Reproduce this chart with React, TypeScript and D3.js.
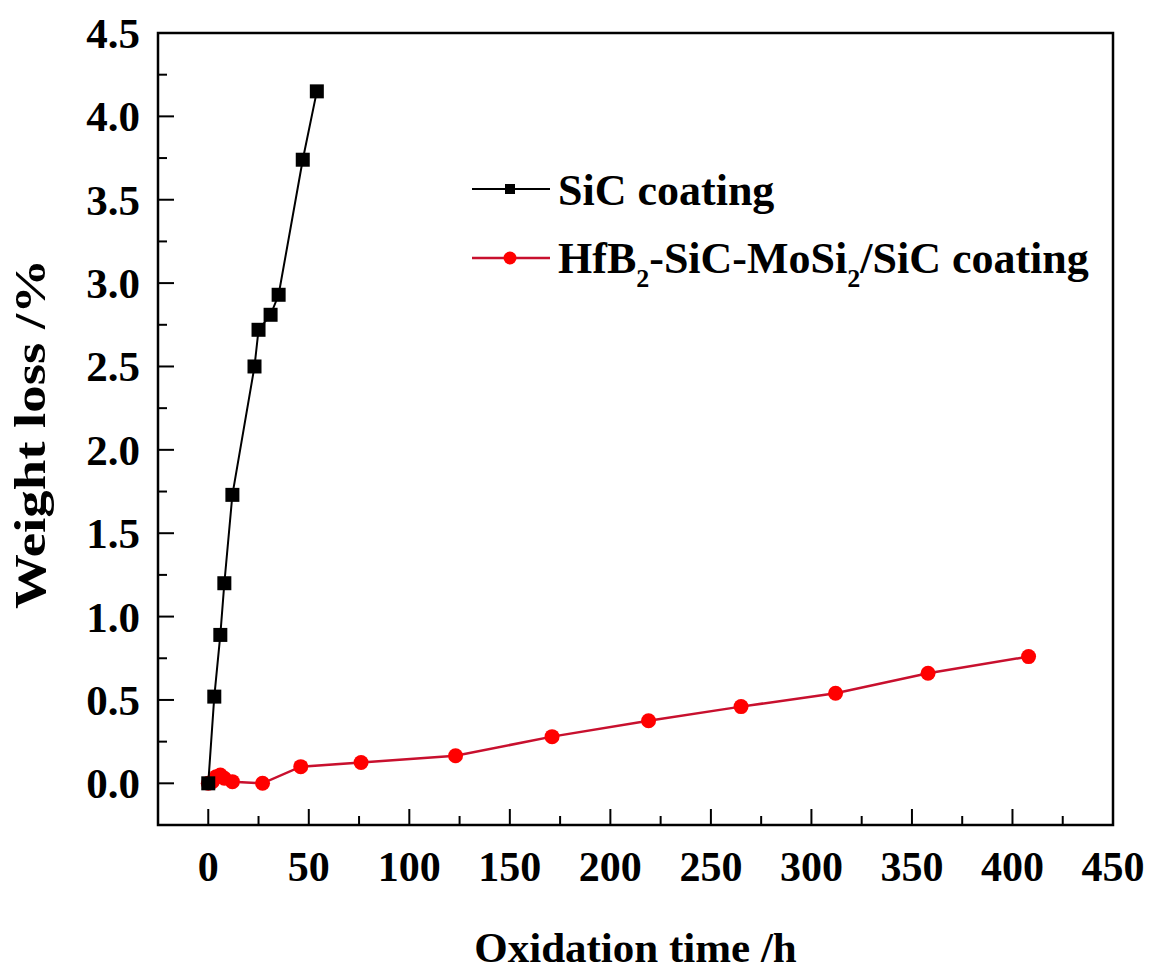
import { useEffect, useRef } from "react";
import * as d3 from "d3";

// SiC coating (black squares)
const sicTime = [0, 3, 6, 8, 12, 23, 25, 31, 35, 47, 54];
const sicLoss = [0, 0.52, 0.89, 1.2, 1.73, 2.5, 2.72, 2.81, 2.93, 3.74, 4.15];

// HfB2-SiC-MoSi2/SiC coating (red circles)
const hfTime = [0, 2, 4, 6, 8, 12, 27, 46, 76, 123, 171, 219, 265, 312, 358, 408];
const hfLoss = [0, 0.01, 0.04, 0.05, 0.03, 0.01, 0, 0.1, 0.125, 0.165, 0.28, 0.375, 0.46, 0.54, 0.66, 0.76];

const xTicks = [0, 50, 100, 150, 200, 250, 300, 350, 400, 450];
const yTicks = [0, 0.5, 1, 1.5, 2, 2.5, 3, 3.5, 4, 4.5];

const W = 1154;
const H = 974;
const FONT = "'Liberation Serif', 'Times New Roman', serif";

const App = () => {
  const svgRef = useRef<SVGSVGElement>(null);

  useEffect(() => {
    const svg = d3.select(svgRef.current);
    svg.selectAll("*").remove();

    const left = 158, right = 1113, top = 33, bottom = 825;

    const x = d3.scaleLinear().domain([-25, 450]).range([left, right]);
    const y = d3.scaleLinear().domain([-0.25, 4.5]).range([bottom, top]);

    const g = svg.append("g");

    // minor + major ticks (inward)
    const xMinor = xTicks.slice(0, -1).map((t) => t + 25);
    const yMinor = yTicks.slice(0, -1).map((t) => t + 0.25);

    xTicks.forEach((t) => {
      g.append("line").attr("x1", x(t)).attr("x2", x(t)).attr("y1", bottom).attr("y2", bottom - 16)
        .attr("stroke", "#000").attr("stroke-width", 2);
      g.append("text").attr("x", x(t)).attr("y", 881).attr("text-anchor", "middle")
        .attr("font-family", FONT).attr("font-weight", "bold").attr("font-size", 42).text(t);
    });
    xMinor.forEach((t) => {
      g.append("line").attr("x1", x(t)).attr("x2", x(t)).attr("y1", bottom).attr("y2", bottom - 9)
        .attr("stroke", "#000").attr("stroke-width", 2);
    });
    yTicks.forEach((t) => {
      g.append("line").attr("x1", left).attr("x2", left + 16).attr("y1", y(t)).attr("y2", y(t))
        .attr("stroke", "#000").attr("stroke-width", 2);
      g.append("text").attr("x", 140).attr("y", y(t) + 15).attr("text-anchor", "end")
        .attr("font-family", FONT).attr("font-weight", "bold").attr("font-size", 43).text(t.toFixed(1));
    });
    yMinor.forEach((t) => {
      g.append("line").attr("x1", left).attr("x2", left + 9).attr("y1", y(t)).attr("y2", y(t))
        .attr("stroke", "#000").attr("stroke-width", 2);
    });

    // frame
    g.append("rect").attr("x", left).attr("y", top).attr("width", right - left).attr("height", bottom - top)
      .attr("fill", "none").attr("stroke", "#000").attr("stroke-width", 2.5);

    // axis titles
    g.append("text").attr("x", (left + right) / 2).attr("y", 962).attr("text-anchor", "middle")
      .attr("font-family", FONT).attr("font-weight", "bold").attr("font-size", 43)
      .text("Oxidation time /h");
    g.append("text").attr("transform", `translate(45, 434) rotate(-90)`)
      .attr("text-anchor", "middle")
      .attr("font-family", FONT).attr("font-weight", "bold").attr("font-size", 44)
      .attr("textLength", 350).attr("lengthAdjust", "spacingAndGlyphs")
      .text("Weight loss /%");

    // SiC series
    const sicPts: [number, number][] = sicTime.map((t, i) => [x(t), y(sicLoss[i])]);
    // HfB2 series
    const hfPts: [number, number][] = hfTime.map((t, i) => [x(t), y(hfLoss[i])]);
    const path = d3.line();

    g.append("path").attr("d", path(hfPts)).attr("fill", "none").attr("stroke", "#c8102e").attr("stroke-width", 2.5);
    g.selectAll(".hf").data(hfPts).join("circle").attr("class", "hf")
      .attr("cx", (d) => d[0]).attr("cy", (d) => d[1]).attr("r", 7.5).attr("fill", "#f00");

    g.append("path").attr("d", path(sicPts)).attr("fill", "none").attr("stroke", "#000").attr("stroke-width", 2);
    g.selectAll(".sic").data(sicPts).join("rect").attr("class", "sic")
      .attr("x", (d) => d[0] - 7).attr("y", (d) => d[1] - 7).attr("width", 14).attr("height", 14).attr("fill", "#000");

    // legend
    const lg = g.append("g");
    lg.append("line").attr("x1", 472).attr("x2", 550).attr("y1", 189).attr("y2", 189).attr("stroke", "#000").attr("stroke-width", 2);
    lg.append("rect").attr("x", 505).attr("y", 184).attr("width", 10).attr("height", 10).attr("fill", "#000");
    lg.append("text").attr("x", 558).attr("y", 205).attr("font-family", FONT).attr("font-weight", "bold")
      .attr("font-size", 44).text("SiC coating");

    lg.append("line").attr("x1", 472).attr("x2", 550).attr("y1", 258).attr("y2", 258).attr("stroke", "#c8102e").attr("stroke-width", 2.5);
    lg.append("circle").attr("cx", 510).attr("cy", 258).attr("r", 6.5).attr("fill", "#f00");
    const t2 = lg.append("text").attr("x", 558).attr("y", 273).attr("font-family", FONT).attr("font-weight", "bold")
      .attr("font-size", 44);
    t2.append("tspan").text("HfB");
    t2.append("tspan").attr("font-size", 26).attr("dy", 14).text("2");
    t2.append("tspan").attr("dy", -14).text("-SiC-MoSi");
    t2.append("tspan").attr("font-size", 26).attr("dy", 14).text("2");
    t2.append("tspan").attr("dy", -14).text("/SiC coating");
  }, []);

  return (
    <svg
      ref={svgRef}
      width={W}
      height={H}
      style={{ position: "absolute", left: 0, top: 0, background: "#fff" }}
    ></svg>
  );
};

export default App;
